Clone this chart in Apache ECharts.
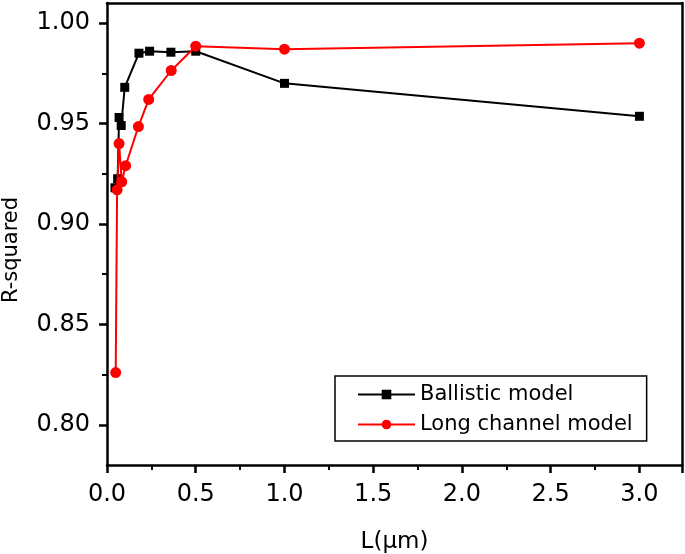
<!DOCTYPE html>
<html>
<head>
<meta charset="utf-8">
<script src="https://cdn.jsdelivr.net/npm/echarts@6/dist/echarts.min.js"></script>
<style>
html,body{margin:0;padding:0;background:#fff;}
#chart{width:685px;height:554px;}
</style>
</head>
<body>
<div id="chart"></div>
<script>
// Data
const L_ballistic = [0.045, 0.06, 0.068, 0.08, 0.1, 0.18, 0.24, 0.36, 0.5, 1.0, 3.0];
const R_ballistic = [0.918, 0.9225, 0.953, 0.949, 0.968, 0.985, 0.986, 0.9855, 0.986, 0.970, 0.9536];
const L_long = [0.049, 0.057, 0.068, 0.083, 0.105, 0.177, 0.235, 0.362, 0.5, 1.0, 3.0];
const R_long = [0.826, 0.917, 0.940, 0.921, 0.929, 0.9485, 0.962, 0.9764, 0.9885, 0.987, 0.990];
const seriesNames = ['Ballistic model', 'Long channel model'];
const yMajorTicks = [0.80, 0.85, 0.90, 0.95, 1.00];
const yMinorTicks = [0.825, 0.875, 0.925, 0.975];
const xName = 'L(\u03bcm)';
const yName = 'R-squared';

const font = "'DejaVu Sans', 'Liberation Sans', Arial, sans-serif";
const pair = (xs, ys) => xs.map((x, i) => [x, ys[i]]);

const chart = echarts.init(document.getElementById('chart'), null, {renderer: 'canvas'});
const axisLine = {show: true, lineStyle: {color: '#000', width: 2.5}};
chart.setOption({
  animation: false,
  backgroundColor: '#fff',
  grid: {left: 107, right: 3, top: 3, bottom: 89, containLabel: false, outerBoundsMode: 'none'},
  xAxis: [{
    type: 'value', position: 'bottom', min: 0, max: 3.24, interval: 0.5,
    axisLine: axisLine,
    axisTick: {show: true, inside: false, length: 8, lineStyle: {color: '#000', width: 2.5}},
    minorTick: {show: true, splitNumber: 2, length: 5, lineStyle: {color: '#000', width: 2}},
    splitLine: {show: false}, minorSplitLine: {show: false},
    axisLabel: {show: true, margin: 18, color: '#000', fontSize: 24, fontFamily: font,
      showMaxLabel: false, formatter: v => v.toFixed(1)},
    name: xName, nameLocation: 'middle', nameGap: 66,
    nameTextStyle: {color: '#000', fontSize: 23, fontFamily: font}
  }, {
    type: 'value', position: 'top', min: 0, max: 3.24,
    axisLine: axisLine, axisTick: {show: false}, axisLabel: {show: false}, splitLine: {show: false}
  }],
  yAxis: [{
    type: 'value', position: 'left', min: 0.78, max: 1.01,
    axisLine: axisLine,
    axisTick: {show: true, inside: false, length: 8, customValues: yMajorTicks, lineStyle: {color: '#000', width: 2.5}},
    axisLabel: {show: true, margin: 17, color: '#000', fontSize: 24, fontFamily: font,
      customValues: yMajorTicks, formatter: v => v.toFixed(2)},
    splitLine: {show: false},
    name: yName, nameLocation: 'middle', nameGap: 85,
    nameTextStyle: {color: '#000', fontSize: 21, fontFamily: font, padding: [0, 32, 0, 0]}
  }, {
    type: 'value', position: 'left', min: 0.78, max: 1.01,
    axisLine: {show: false},
    axisTick: {show: true, inside: false, length: 5, customValues: yMinorTicks, lineStyle: {color: '#000', width: 2}},
    axisLabel: {show: false}, splitLine: {show: false}
  }, {
    type: 'value', position: 'right', min: 0.78, max: 1.01,
    axisLine: axisLine, axisTick: {show: false}, axisLabel: {show: false}, splitLine: {show: false}
  }],
  legend: {
    show: true, orient: 'vertical', left: 335, top: 376,
    padding: [8, 14, 6, 22], itemGap: 9, itemWidth: 57, itemHeight: 12,
    borderColor: '#000', borderWidth: 1.5, backgroundColor: '#fff',
    textStyle: {color: '#000', fontSize: 21, fontFamily: font},
    data: seriesNames
  },
  series: [{
    name: seriesNames[0], type: 'line', data: pair(L_ballistic, R_ballistic),
    symbol: 'rect', symbolSize: 9, showAllSymbol: true,
    lineStyle: {color: '#000', width: 2}, itemStyle: {color: '#000'}, z: 2
  }, {
    name: seriesNames[1], type: 'line', data: pair(L_long, R_long),
    symbol: 'circle', symbolSize: 11, showAllSymbol: true,
    lineStyle: {color: '#ff0000', width: 2}, itemStyle: {color: '#ff0000'}, z: 3
  }]
});
</script>
</body>
</html>
